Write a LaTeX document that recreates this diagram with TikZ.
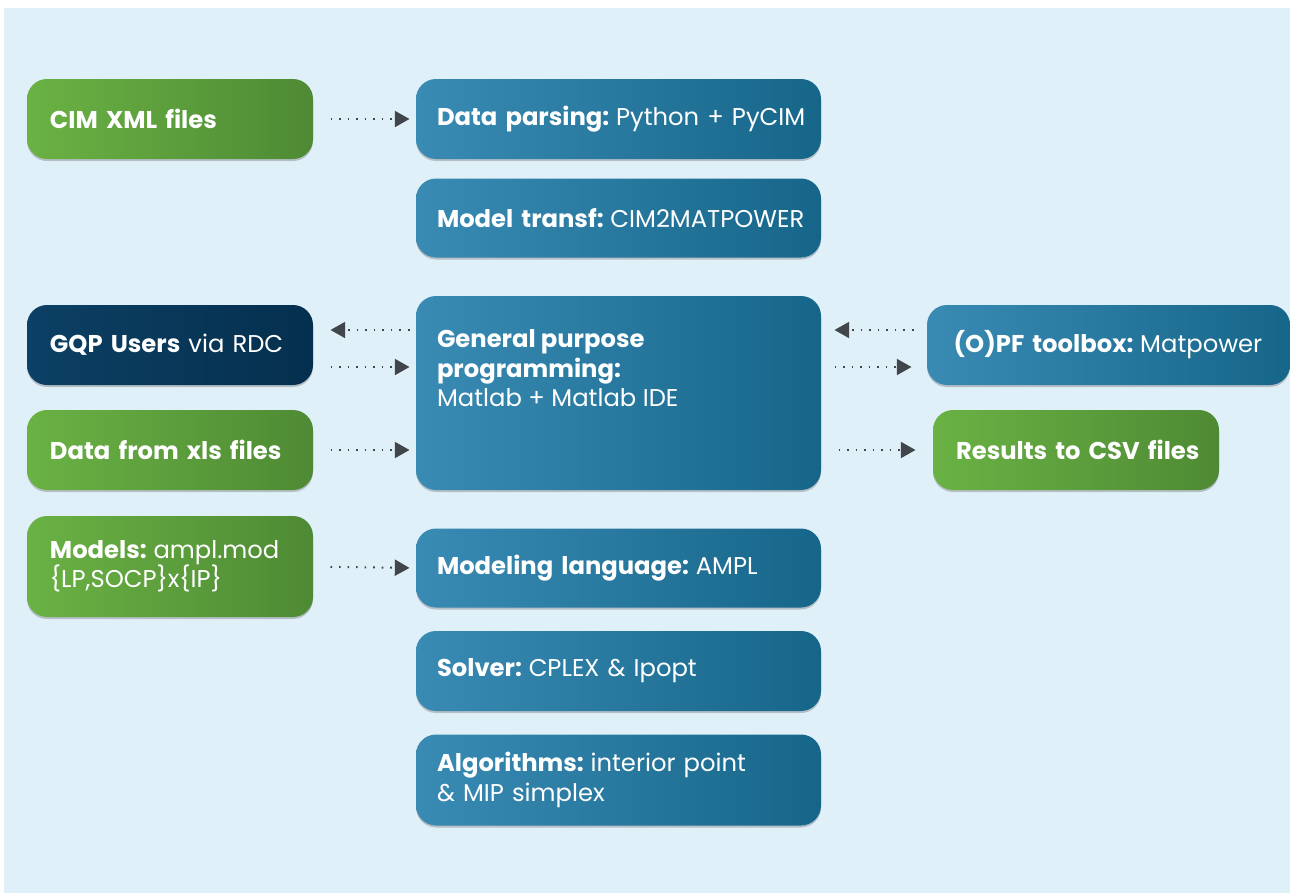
\documentclass[tikz,border=0pt]{standalone}
\usepackage{fontspec}
\setmainfont{Poppins}
\usetikzlibrary{arrows.meta,calc,shadows}

\definecolor{bgblue}{RGB}{224,240,249}
\definecolor{greenL}{RGB}{106,178,68}
\definecolor{greenR}{RGB}{78,138,52}
\definecolor{blueL}{RGB}{58,139,180}
\definecolor{blueR}{RGB}{22,102,138}
\definecolor{navyL}{RGB}{12,64,100}
\definecolor{navyR}{RGB}{5,47,78}
\definecolor{arrowgray}{RGB}{64,70,74}

\tikzset{every picture/.style={line width=0.75pt}}
\newcommand{\lbl}[1]{\textbf{#1}\hspace{0.28em}}

\begin{document}
\begin{tikzpicture}[x=0.75pt,y=0.75pt,yscale=-1,xscale=1,
  box/.style={rounded corners=15pt, text=white, align=left, inner ysep=0pt,
    font=\fontsize{18.2}{22}\selectfont,
    drop shadow={shadow xshift=0pt, shadow yshift=-1.5pt, opacity=0.35, fill=black!60}},
  greenbox/.style={box, left color=greenL, right color=greenR, text width=180pt, inner xsep=17.25pt},
  bluebox/.style={box, left color=blueL, right color=blueR, text width=272.25pt, inner xsep=15.75pt},
  navybox/.style={box, left color=navyL, right color=navyR, text width=180pt, inner xsep=17.25pt},
  flow/.style={draw=arrowgray, line width=1.5pt, dash pattern=on 1.2pt off 5.2pt,
    -{Triangle[length=11pt,width=12pt]}}
]
\useasboundingbox (0,0) rectangle (1290,893);
%background
\fill[bgblue] (4,8) rectangle (1290,893);

%left column
\node[greenbox, minimum height=60pt] (cim) at (170,119) {\bfseries CIM XML files};
\node[navybox, minimum height=60pt] (gqp) at (170,345) {\mbox{\bfseries GQP Users \mdseries via RDC}};
\node[greenbox, minimum height=60pt] (xls) at (170,450) {\mbox{\bfseries Data from xls files}};
\node[greenbox, minimum height=75.75pt] (models) at (170,566.5) {\lbl{Models:}ampl.mod\\\{LP,SOCP\}x\{IP\}};

%middle column
\node[bluebox, minimum height=60pt] (parse) at (618.5,119) {\mbox{\lbl{Data parsing:}Python + PyCIM}};
\node[bluebox, minimum height=59.25pt] (transf) at (618.5,218) {\mbox{\lbl{Model transf:}CIM2MATPOWER}};
\node[bluebox, minimum height=145.5pt] (gen) at (618.5,393) {};
\node[anchor=north west, inner sep=0pt, text=white, align=left, font=\fontsize{18.2}{22}\selectfont]
  (gentext) at ($(gen.north west)+(21,34)$) {\textbf{General purpose}\\\textbf{programming:}\\Matlab + Matlab IDE};
\node[bluebox, minimum height=59.25pt] (lang) at (618.5,568) {\mbox{\lbl{Modeling language:}AMPL}};
\node[bluebox, minimum height=60pt] (solver) at (618.5,671) {\lbl{Solver:}CPLEX \& Ipopt};
\node[bluebox, minimum height=68.25pt] (algo) at (618.5,780) {\lbl{Algorithms:}interior point\\\& MIP simplex};

%right column
\node[box, left color=blueL, right color=blueR, text width=232.25pt, inner xsep=20pt, minimum height=60pt]
  (opf) at (1108.5,345) {\mbox{\lbl{(O)PF toolbox:}Matpower}};
\node[greenbox, minimum height=60pt] (csv) at (1076,450) {\mbox{\bfseries Results to CSV files}};

%arrows
\draw[flow, shorten <=12.75pt, shorten >=4.5pt] (cim.east) -- (parse.west);
\draw[flow, shorten <=4.5pt, shorten >=12.75pt] ($(gen.west |- gqp.east)+(0,-15)$) -- ($(gqp.east)+(0,-15)$);
\draw[flow, shorten <=12.75pt, shorten >=4.5pt] ($(gqp.east)+(0,22)$) -- ($(gen.west |- gqp.east)+(0,22)$);
\draw[flow, shorten <=12.75pt, shorten >=4.5pt] (xls.east) -- (gen.west |- xls.east);
\draw[flow, shorten <=12.75pt, shorten >=4.5pt] (models.east) -- (lang.west);
\draw[flow, shorten <=9.75pt, shorten >=9.75pt] ($(opf.west)+(0,-15)$) -- ($(gen.east |- opf.west)+(0,-15)$);
\draw[flow, shorten <=9.75pt, shorten >=11.25pt] ($(gen.east |- opf.west)+(0,22)$) -- ($(opf.west)+(0,22)$);
\draw[flow, shorten <=12.75pt, shorten >=12.75pt] (gen.east |- csv.west) -- (csv.west);

\end{tikzpicture}
\end{document}
